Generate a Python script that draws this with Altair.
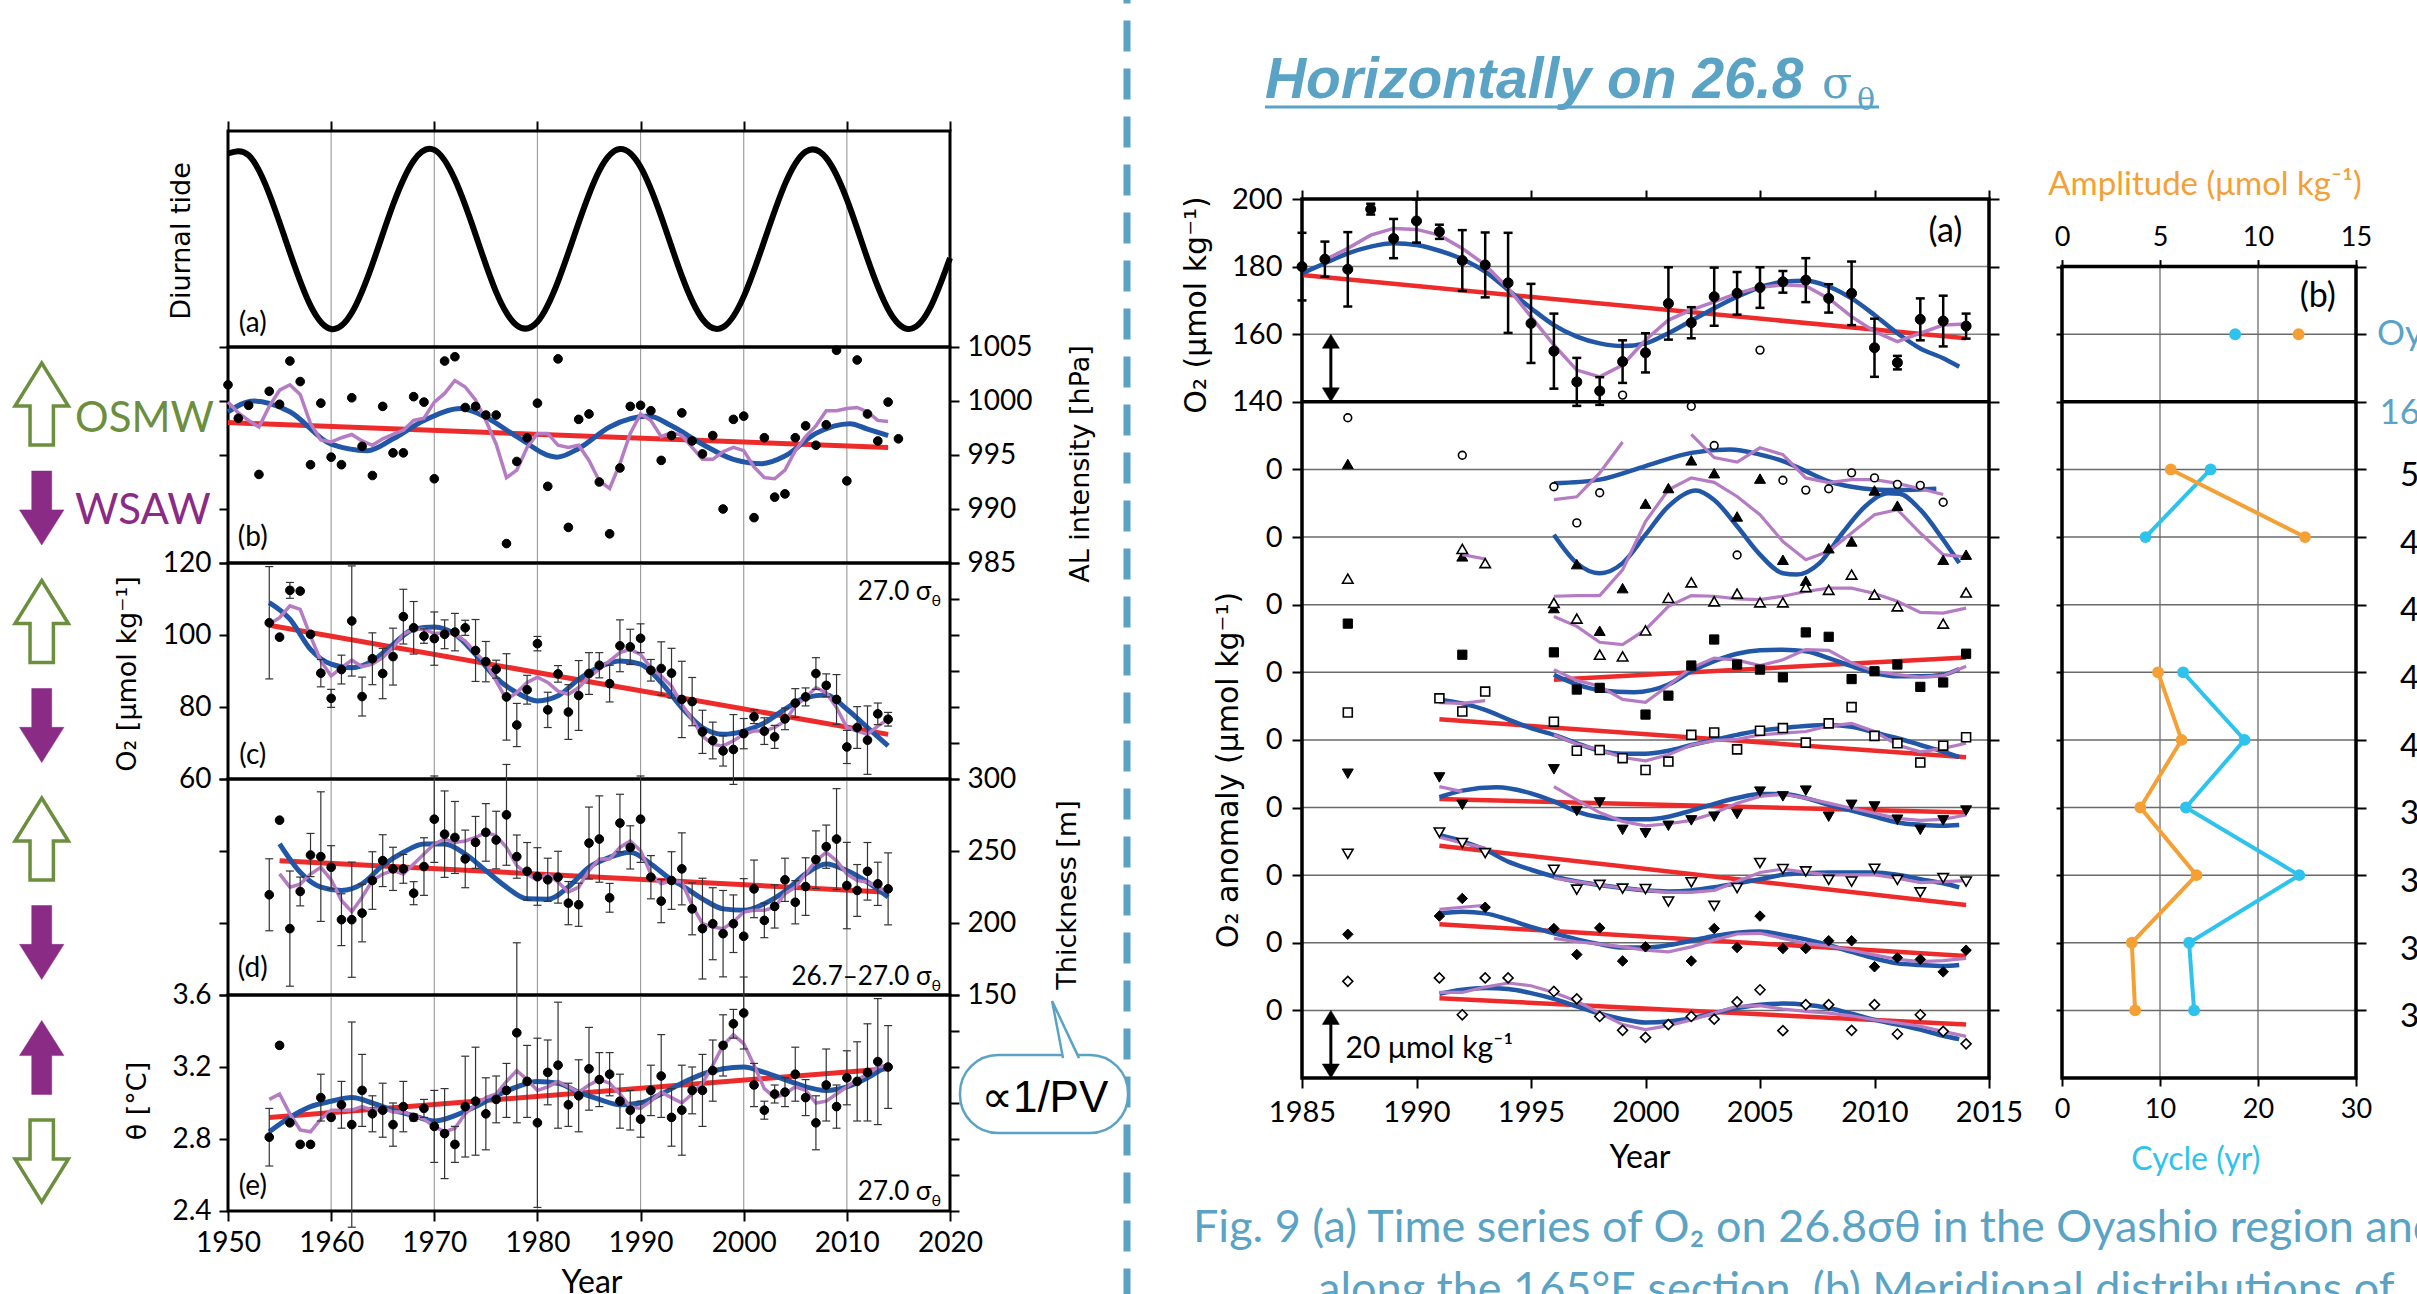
import altair as alt
import pandas as pd

# ============================== DATA ==============================
# ---- left column, panel (a): diurnal (nodal) tide, read every two years
TIDE_YEARS = list(range(1950, 2021, 2))
TIDE = [0.95, 0.93, 0.50, -0.15, -0.74, -1.00, -0.82, -0.28, 0.38, 0.87,
        0.99, 0.66, 0.05, -0.59, -0.96, -0.92, -0.47, 0.18, 0.76, 1.00,
        0.80, 0.25, -0.41, -0.89, -0.98, -0.64, -0.02, 0.61, 0.97, 0.90,
        0.44, -0.22, -0.78, -1.00, -0.78, -0.21]

# ---- panel (b): Aleutian Low intensity [hPa]
AL_YEARS = list(range(1950, 2016))
AL = [1001.5, 998.4, 999.6, 993.2, 1000.9, 999.7, 1003.7, 1001.8, 994.1, 999.8,
      994.8, 994.1, 1000.3, 995.8, 993.1, 999.5, 995.2, 995.2, 1000.4, 999.9,
      992.8, 1003.7, 1004.1, 999.4, 999.5, 998.7, 998.7, 986.8, 994.4, 996.6,
      999.8, 992.1, 1003.9, 988.3, 998.3, 998.8, 992.5, 987.7, 993.8, 999.5,
      999.6, 999.1, 994.5, 996.8, 998.9, 996.3, 995.1, 996.8, 990.0, 998.3,
      998.6, 989.2, 996.6, 991.1, 991.4, 996.6, 997.7, 995.9, 997.8, 1004.7,
      992.6, 1003.8, 998.8, 996.3, 999.9, 996.5]
AL_PURPLE_YEARS = list(range(1950, 2015))
AL_PURPLE = [999.9, 998.9, 998.2, 997.6, 999.5, 1001.0, 1001.5, 1000.6, 997.9, 996.4,
             996.2, 996.6, 996.9, 996.3, 995.9, 996.5, 996.9, 997.3, 998.2, 998.4,
             999.9, 1000.7, 1001.9, 1001.3, 1000.1, 998.2, 996.0, 992.9, 993.6, 995.7,
             997.0, 997.0, 995.9, 995.7, 995.9, 994.5, 992.6, 991.9, 994.2, 997.0,
             998.8, 998.2, 996.7, 997.1, 996.8, 995.7, 994.6, 994.6, 995.3, 995.7,
             995.4, 993.9, 992.9, 992.8, 993.6, 995.4, 996.7, 997.7, 999.1, 999.1,
             999.3, 999.4, 999.0, 998.2, 998.1]
AL_BLUE_YEARS = [1950, 1952.5, 1956, 1960, 1963.5, 1966, 1969, 1972.6, 1975, 1978, 1981.9, 1984,
                 1987, 1990.8, 1993, 1996, 1999, 2001.8, 2004, 2007, 2010.3, 2012, 2014]
AL_BLUE = [999.0, 1000.0, 999.0, 996.0, 995.4, 996.5, 998.2, 999.3, 998.5, 996.7, 994.8, 995.6,
           997.6, 998.6, 997.7, 996.0, 994.6, 994.2, 994.9, 997.0, 997.9, 997.4, 996.8]
AL_RED_YEARS = [1950, 2014]
AL_RED = [998.0, 995.7]

# ---- panels (c)-(e): yearly values 1954-2014
OBS_YEARS = list(range(1954, 2015))
O2 = [103.4, 99.4, 112.4, 112.2, 100.2, 89.4, 82.4, 90.4, 103.9, 82.9,
      93.4, 89.3, 94.0, 105.1, 102.0, 99.7, 99.0, 100.2, 100.8, 102.0,
      95.7, 92.6, 90.5, 82.8, 75.0, 84.8, 97.6, 79.2, 89.2, 78.6,
      83.2, 89.3, 91.6, 86.5, 97.0, 96.7, 99.1, 90.2, 90.7, 89.4,
      82.1, 81.5, 73.1, 70.7, 67.8, 68.2, 72.6, 77.3, 73.3, 71.7,
      76.7, 81.1, 82.8, 89.3, 86.0, 82.1, 68.9, 74.3, 70.8, 78.1, 76.6]
O2_ERR = [15.6, 0, 2.2, 0, 0, 3.8, 2.5, 4.0, 15.3, 5.4,
          7.2, 7.0, 7.9, 7.6, 7.3, 2.0, 7.4, 4.0, 5.2, 2.1,
          8.6, 5.6, 2.5, 12.0, 6.0, 4.0, 2.0, 4.9, 2.3, 7.6,
          9.7, 5.8, 3.5, 5.1, 7.2, 4.9, 4.0, 3.0, 7.4, 6.9,
          10.6, 6.7, 6.0, 5.1, 4.2, 9.7, 4.2, 1.9, 3.7, 3.2,
          3.0, 4.0, 2.5, 4.4, 3.2, 6.9, 4.6, 5.8, 9.5, 3.0, 1.9]
O2_PURPLE = [103.0, 104.8, 108.1, 107.1, 99.7, 92.8, 88.6, 90.9, 93.0, 91.2,
             91.9, 93.7, 96.5, 100.2, 101.6, 101.6, 100.4, 100.6, 100.2, 98.3,
             95.1, 92.3, 87.2, 82.1, 84.0, 86.8, 88.3, 86.8, 84.4, 83.5,
             85.4, 88.3, 90.5, 92.8, 95.1, 96.0, 94.6, 90.9, 88.6, 85.8,
             80.7, 76.6, 71.9, 69.6, 69.2, 70.6, 72.4, 73.3, 73.3, 74.3,
             76.1, 80.3, 82.6, 85.4, 84.0, 79.8, 74.3, 73.3, 72.4, 74.7, 76.6]
O2_BLUE_YEARS = list(range(1954, 2015, 2))
O2_BLUE = [109.0, 104.4, 96.0, 91.9, 90.9, 92.8, 97.4, 101.6, 102.2, 100.2,
           94.6, 88.1, 84.0, 81.7, 83.1, 87.7, 91.1, 92.8, 91.9, 86.8,
           79.8, 74.3, 72.4, 73.3, 75.6, 79.4, 82.6, 83.3, 79.4, 74.3, 69.2]
O2_RED_YEARS = [1954, 2014]
O2_RED = [102.7, 72.4]

THICK = [219.6, 271.4, 196.1, 221.9, 247.2, 246.1, 238.7, 202.3, 202.3, 206.9,
         229.5, 243.3, 237.6, 237.6, 220.7, 239.2, 272.1, 261.7, 259.4, 244.5,
         256.0, 262.9, 257.6, 275.1, 246.1, 235.9, 232.3, 230.0, 231.8, 213.8,
         212.7, 255.5, 258.3, 217.5, 269.4, 252.5, 272.1, 231.8, 215.2, 229.5,
         237.6, 209.8, 196.1, 199.5, 192.6, 199.5, 190.8, 223.7, 201.8, 211.5,
         230.0, 214.4, 225.3, 244.0, 253.0, 258.3, 226.0, 222.6, 235.9, 227.2, 223.7]
THICK_ERR = [25, 0, 40, 10, 15, 45, 15, 18, 40, 20,
             20, 18, 15, 10, 8, 20, 30, 30, 25, 20,
             18, 20, 20, 35, 15, 20, 20, 15, 18, 15,
             15, 25, 30, 10, 20, 15, 30, 15, 15, 20,
             25, 18, 35, 25, 30, 20, 40, 20, 12, 15,
             15, 15, 20, 20, 15, 35, 30, 18, 20, 15, 25]
THICK_PURPLE_YEARS = list(range(1955, 2015))
THICK_PURPLE = [234.1, 224.9, 227.0, 234.0, 238.7, 230.0, 215.7, 207.8, 217.9, 229.5,
                234.0, 236.4, 234.0, 241.0, 247.9, 254.9, 258.3, 256.0, 257.0, 259.4,
                262.9, 260.6, 252.5, 239.9, 234.0, 229.5, 234.0, 228.4, 221.4, 224.9,
                236.4, 244.5, 244.5, 252.5, 257.0, 250.2, 234.0, 227.2, 229.5, 228.4,
                212.2, 199.5, 197.2, 196.1, 200.7, 207.6, 208.8, 208.8, 211.0, 220.3,
                224.9, 234.1, 243.3, 249.1, 243.3, 234.1, 229.5, 228.4, 224.9, 221.4]
THICK_BLUE_YEARS = [1955, 1957, 1959, 1961, 1963, 1965, 1967, 1969, 1971, 1973,
                    1975, 1977, 1979, 1981, 1983, 1985, 1987, 1989, 1991, 1993,
                    1994, 1996, 1998, 2000, 2002, 2004, 2006, 2008, 2010, 2012, 2014]
THICK_BLUE = [254.9, 235.2, 224.9, 222.6, 227.2, 239.9, 249.1, 254.9, 254.9, 247.9,
              236.4, 224.9, 216.8, 216.5, 225.0, 238.7, 245.6, 249.1, 241.0, 230.0,
              226.0, 216.8, 209.8, 208.8, 213.4, 222.0, 234.1, 241.0, 236.4, 228.4, 218.0]
THICK_RED_YEARS = [1955, 2014]
THICK_RED = [243.3, 221.4]

THETA = [2.81, 3.32, 2.89, 2.77, 2.77, 3.03, 2.92, 2.99, 2.88, 3.07,
         2.94, 2.96, 2.88, 2.98, 2.92, 2.97, 2.87, 2.83, 2.77, 2.98,
         3.01, 2.94, 3.02, 3.07, 3.39, 3.12, 2.89, 3.17, 3.21, 2.99,
         3.04, 3.19, 3.13, 3.16, 3.01, 2.96, 2.91, 3.07, 3.15, 2.92,
         2.96, 3.07, 3.07, 3.18, 3.32, 3.44, 3.50, 3.10, 2.96, 3.05,
         3.06, 3.16, 3.03, 2.89, 3.10, 2.98, 3.14, 3.12, 3.17, 3.23, 3.20]
THETA_ERR = [0.16, 0, 0, 0, 0, 0.13, 0, 0.13, 0.57, 0.2,
             0.1, 0.15, 0.12, 0.14, 0.02, 0.05, 0.2, 0.25, 0.1, 0.28,
             0.3, 0.2, 0.13, 0.15, 0.5, 0.2, 0.47, 0.18, 0.35, 0.12,
             0.2, 0.23, 0.15, 0.12, 0.15, 0.11, 0.1, 0.14, 0.23, 0.16,
             0.25, 0.13, 0.2, 0.17, 0.17, 0.08, 0.2, 0.12, 0.05, 0.05,
             0.08, 0.15, 0.1, 0.15, 0.2, 0.12, 0.15, 0.22, 0.27, 0.35, 0.23]
THETA_PURPLE = [3.02, 3.05, 2.94, 2.85, 2.84, 2.91, 2.96, 2.96, 2.96, 2.98,
                2.96, 2.97, 2.95, 2.95, 2.93, 2.91, 2.87, 2.84, 2.86, 2.94,
                2.99, 3.03, 3.05, 3.12, 3.18, 3.13, 3.07, 3.09, 3.12, 3.09,
                3.06, 3.10, 3.13, 3.11, 3.05, 2.98, 2.97, 3.01, 3.06, 3.03,
                3.00, 3.05, 3.11, 3.21, 3.32, 3.38, 3.33, 3.21, 3.08, 3.03,
                3.05, 3.09, 3.07, 3.00, 3.01, 3.05, 3.09, 3.13, 3.16, 3.20, 3.21]
THETA_BLUE_YEARS = list(range(1954, 2015, 2))
THETA_BLUE = [2.84, 2.92, 2.98, 3.01, 3.03, 3.00, 2.96, 2.93, 2.90, 2.93,
              2.98, 3.04, 3.09, 3.12, 3.11, 3.06, 3.02, 2.99, 3.00, 3.05,
              3.11, 3.16, 3.19, 3.20, 3.17, 3.13, 3.09, 3.07, 3.09, 3.14, 3.21]
THETA_RED_YEARS = [1954, 2014]
THETA_RED = [2.92, 3.19]

# ---- right, panel (a): O2 on 26.8 sigma-theta in the Oyashio region
OY_YEARS = list(range(1985, 2015))
OY_O2 = [180.0, 182.2, 179.2, 197.0, 188.3, 193.5, 190.3, 181.8, 180.5, 175.2,
         163.2, 155.0, 145.9, 143.2, 151.9, 154.5, 169.1, 163.4, 171.1, 172.1,
         173.8, 175.5, 176.0, 170.6, 172.1, 156.0, 151.6, 164.4, 163.9, 162.4]
OY_ERR = [10, 5.2, 11, 1.6, 5.8, 6.4, 2.1, 9, 9.6, 14.8,
          11.7, 11.1, 7.1, 4.1, 6.3, 5.8, 10.7, 4.6, 8.6, 6.3,
          6, 3.2, 6.5, 4.2, 9.4, 8.6, 2, 6.2, 7.5, 3.7]
OY_BLUE_YEARS = list(range(1985, 2014)) + [2013.7]
OY_BLUE = [178.0, 181.0, 183.9, 185.9, 186.9, 186.4, 184.7, 182.2, 178.5, 173.1,
           167.7, 162.7, 159.3, 157.3, 156.5, 157.3, 160.3, 164.0, 167.7, 171.1,
           173.9, 175.5, 175.8, 174.1, 170.6, 165.7, 160.3, 155.8, 152.9, 150.4]
OY_PURPLE_YEARS = list(range(1986, 2015))
OY_PURPLE = [182.0, 185.4, 189.3, 191.3, 191.0, 189.3, 185.4, 180.5, 173.6, 165.2,
             156.8, 149.4, 147.4, 150.9, 158.3, 164.2, 167.2, 169.6, 172.1, 173.9,
             174.6, 174.3, 170.6, 165.2, 160.8, 157.8, 160.3, 162.7, 163.0]
OY_RED_YEARS = [1985, 2014]
OY_RED = [177.5, 158.8]

# ---- right, O2 anomalies along 165E (nine latitudes, north to south)
P96 = list(range(1996, 2015))
B91 = list(range(1991, 2014)) + [2013.7]

R1_YEARS = [1987, 1992, 1996, 1997, 1998, 1999, 2002, 2003, 2004, 2005, 2006, 2007, 2008, 2009, 2010, 2011, 2012, 2013]
R1_ANOM = [15.3, 4.2, -5.1, -15.8, -6.9, 22.0, 18.7, 7.1, -25.3, 35.3, -3.2, -6.1, -5.7, -1.0, -2.5, -4.4, -4.7, -9.7]
R1_BLUE_YEARS = [1996, 1998, 2000, 2002, 2003.7, 2005, 2006, 2007, 2008, 2009, 2010, 2011, 2012.7]
R1_BLUE = [-4.1, -3.0, 1.0, 4.9, 5.9, 4.4, 2.5, -0.5, -3.5, -5.1, -5.9, -6.1, -5.7]
R1_PURPLE_YEARS = [1996, 1997, 1998, 1999] + list(range(2002, 2014))
R1_PURPLE = [-8.9, -8.1, -1.0, 8.1, 10.4, 3.5, 2.2, 6.4, 4.4, -2.5, -3.9, -3.0, -3.0, -4.1, -5.7, -7.4]
R1_PURPLE_SEG = [0] * 4 + [1] * 12

R2_YEARS = [1987, 1992] + list(range(1996, 2012)) + [2013, 2014]
R2_ANOM = [21.6, -5.7, -21.0, -8.0, -27.7, -15.1, 9.9, 14.5, 22.7, 18.9, 6.1, 17.3, -6.7, -12.9, -3.3, -1.3, 13.8, 9.3, -6.7, -5.2]
R2_BLUE_YEARS = [1996, 1997, 1998, 1999, 2000, 2001, 2002.2, 2003, 2004, 2005, 2006, 2006.6, 2007.6,
                 2008.6, 2009.6, 2010.6, 2011.1, 2012, 2013, 2013.7]
R2_BLUE = [0.7, -7.7, -10.7, -7.7, 0.7, 9.1, 13.8, 11.0, 3.2, -5.2, -10.7, -11.1, -7.7, 1.2, 9.1, 13.0, 12.8, 8.1, -0.8, -7.7]
R2_PURPLE = [-17.5, -17.3, -17.3, -9.7, 4.6, 14.0, 17.5, 16.2, 12.0, 6.6, -1.3, -6.7, -4.2, 1.2, 6.6, 8.1, 1.2, -5.2, -5.9]

R3_YEARS = [1987, 1992, 1993] + list(range(1996, 2012)) + [2013, 2014]
R3_ANOM = [7.7, 16.5, 12.3, 0.5, -4.1, -14.8, -15.3, -7.6, 2.0, 6.6, 1.0, 3.3, 0.7, 0.7, 5.2, 4.4, 8.9, 3.0, -0.5, -5.6, 3.6]
R3_PURPLE_YEARS = [1992, 1993] + P96
R3_PURPLE = [14.8, 13.5, -3.5, -6.4, -11.1, -11.8, -7.4, -0.5, 2.7, 2.5, 1.7, 1.5, 2.5, 3.9, 4.9, 4.9, 3.3, 1.0, -2.3, -2.5, -1.0]
R3_PURPLE_SEG = [0, 0] + [1] * 19

R4_YEARS = [1987, 1992, 1996, 1997, 1998] + list(range(2000, 2015))
R4_ANOM = [14.4, 5.2, 5.9, -5.1, -4.6, -12.5, -6.9, 2.0, 9.7, 2.3, 0.8, -1.5, 11.8, 10.5, -2.0, 0.3, 2.3, -4.3, -3.0, 5.5]
R4_BLUE_YEARS = [1996, 1997, 1998, 1999.5] + list(range(2001, 2014)) + [2013.7]
R4_BLUE = [-0.7, -3.6, -5.3, -5.9, -3.6, 0.3, 3.3, 5.5, 6.5, 6.7, 6.2, 4.2, 1.8, -0.2, -1.2, -1.2, -0.7, 1.0]
R4_PURPLE = [0.8, -2.4, -4.1, -8.0, -8.9, -3.9, 1.3, 4.2, 3.6, 2.0, 3.7, 6.7, 6.5, 2.8, 0.3, -0.7, -1.4, -1.0, 1.8]
R4_RED_YEARS = [1996, 2014]
R4_RED = [-2.2, 4.4]

R5_YEARS = [1987, 1991, 1992, 1993] + P96
R5_ANOM = [8.1, 12.3, 8.4, 14.3, 5.4, -3.2, -3.0, -5.4, -8.9, -6.4, 1.5, 2.2, -2.8, 2.7, 3.5, -0.8, 4.9, 9.7, 1.2, -1.0, -6.7, -1.7, 0.8]
R5_BLUE = [12.0, 10.8, 8.9, 6.1, 3.5, 1.5, -1.0, -3.2, -4.1, -4.1, -3.2, -1.5, 0.0, 1.5, 2.8, 3.5, 4.1, 4.4, 3.9, 2.2, 0.5, -1.5, -3.5, -5.1]
R5_PURPLE_YEARS = [1991, 1992, 1993] + P96
R5_PURPLE = [11.0, 10.8, 11.6, 1.5, -1.2, -3.0, -5.2, -6.2, -4.4, -1.5, -0.2, 0.2, 1.5, 2.0, 2.5, 4.1, 4.9, 2.5, -1.5, -3.5, -2.5, -1.0]
R5_RED = [6.1, -5.1]

R6_YEARS = [1987, 1991, 1992] + P96
R6_ANOM = [10.0, 8.9, 0.8, 11.3, -1.0, 1.5, -6.6, -7.6, -5.4, -3.8, -2.7, -1.9, 4.7, 3.3, 5.0, -2.7, 0.8, 0.3, -3.6, -6.6, -3.8, -0.9]
R6_BLUE_YEARS = [1991, 1992, 1993.5, 1995] + list(range(1996, 2014)) + [2013.7]
R6_BLUE = [3.1, 5.0, 6.0, 4.2, 1.8, -1.2, -2.9, -3.5, -3.5, -2.7, -0.9, 1.1, 2.8, 4.0, 4.0, 2.8, 0.8, -0.9, -2.7, -4.4, -5.1, -5.4, -5.2]
R6_PURPLE_YEARS = [1991, 1992] + P96
R6_PURPLE = [6.2, 4.7, 6.2, 2.3, -1.5, -4.1, -5.4, -4.8, -3.8, -1.7, 1.3, 3.3, 4.0, 2.8, 1.3, -0.2, -1.7, -3.2, -3.8, -3.5, -2.2]
R6_RED = [2.5, -1.5]

R7_YEARS = [1987, 1991, 1992, 1993] + P96
R7_ANOM = [6.3, 12.6, 9.5, 6.5, 1.6, -4.3, -2.9, -4.0, -4.1, -7.8, -2.1, -9.1, -3.8, 3.6, 1.8, 1.1, -1.4, -1.9, 1.9, -1.4, -5.1, -0.9, -1.9]
R7_BLUE = [11.9, 10.0, 7.5, 4.0, 1.6, -0.4, -1.9, -2.9, -3.8, -4.5, -4.8, -4.5, -3.6, -2.4, -1.2, 0.1, 0.6, 0.8, 0.8, 0.8, 0.1, -1.2, -2.4, -3.6]
R7_PURPLE = [11.2, 9.5, 8.0, -0.9, -1.9, -2.9, -3.8, -4.5, -5.1, -5.1, -4.5, -1.9, 0.8, 1.8, 0.8, 0.1, 0.1, 0.1, -0.9, -2.2, -1.9, -1.6]
R7_RED = [8.7, -8.8]

R8_YEARS = [1987, 1991, 1992, 1993, 1996, 1997, 1998, 1999, 2000] + list(range(2002, 2015))
R8_ANOM = [2.5, 7.9, 13.1, 10.5, 4.2, -3.5, 4.4, -5.4, -1.2, -5.4, 4.2, -1.4, 7.9, -1.7, -1.7, 0.6, 0.6, -7.1, -4.4, -4.9, -8.6, -2.2]
R8_BLUE = [8.7, 9.2, 8.7, 6.9, 4.7, 2.8, 1.0, -0.4, -1.4, -1.4, -0.7, 0.6, 2.0, 3.0, 3.3, 2.3, 1.0, -0.7, -2.7, -4.6, -6.1, -6.6, -6.9, -6.6]
R8_PURPLE = [9.9, 10.5, 11.1, 1.3, 0.3, -0.4, -1.2, -2.2, -2.7, -1.2, 0.8, 2.6, 2.8, 1.3, -0.2, -1.0, -2.2, -3.6, -4.9, -5.6, -5.3, -4.6]
R8_RED = [5.5, -3.9]

R9_YEARS = [1987, 1991, 1992, 1993, 1994] + P96
R9_ANOM = [8.6, 9.6, -1.3, 9.6, 9.6, 5.6, 3.4, -1.8, -5.9, -8.0, -4.2, -1.8, -2.6, 2.5, 6.1, -6.0, 1.7, 1.7, -5.9, 1.7, -7.0, -1.3, -6.2, -9.9]
R9_BLUE = [4.9, 6.1, 6.6, 6.3, 5.1, 3.4, 1.2, -1.0, -2.6, -3.6, -3.3, -2.3, -0.8, 0.7, 1.7, 2.0, 1.7, 0.7, -1.0, -2.8, -4.2, -5.7, -7.5, -8.5]
R9_PURPLE_YEARS = list(range(1991, 2015))
R9_PURPLE = [5.3, 5.3, 6.9, 8.1, 7.3, 5.3, 2.7, -0.8, -4.2, -5.7, -4.5, -2.8, -0.8, 1.2, 1.4, 0.4, -0.3, -0.8, -1.6, -2.8, -3.7, -4.7, -6.2, -7.7]
R9_RED = [3.6, -4.2]
RED_YEARS = [1991, 2014]

# ---- right, panel (b): amplitude and cycle of the oscillation
B_LABELS = ['Oyashio', '165°E', '50°N', '47°N', '45°N', '42°N', '40°N', '37°N', '35°N', '32°N', '30°N']
B_GROUP = ['oy', 'sec', 'n', 'n', 'x', 's', 's', 's', 's', 's', 's']
B_AMPLITUDE = [12.07, None, 5.55, 12.40, None, 4.90, 6.10, 4.00, 6.86, 3.56, 3.73]
B_CYCLE = [17.67, None, 15.16, 8.52, None, 12.36, 18.63, 12.64, 24.21, 12.97, 13.48]

# ============================== LAYOUT / STYLE ==============================
W, H = 2417, 1294
LX = ([1950, 2020], [228, 950])
PA = ([-1.2, 1.2], [347, 131])
PB = ([985, 1005], [563, 347])
PC = ([60, 120], [779, 563])
PD = ([150, 300], [995, 779])
PE = ([2.4, 3.6], [1211, 995])
RX = ([1985, 2015], [1302, 1989])
RY = ([-60, 200], [1078, 199])
BX = ([0, 30], [2062, 2356])
BA = ([0, 15], [2062, 2356])
BY = ([-60, 180], [1078, 266.6])
ROW_ZERO = [120, 100, 80, 60, 40, 20, 0, -20, -40]      # zero line of each anomaly series
B_LEVEL = [160, 140, 120, 100, 80, 60, 40, 20, 0, -20, -40]

BLUE, PURPLE, RED = '#2157a6', '#b57cc3', '#ee2b2b'
GREEN, VIOLET, TEAL = '#6b8f3e', '#8a2b86', '#5aa3c5'
ORANGE, CYAN, GRID = '#f4a034', '#2ec3ec', '#a0a0a0'
FONT = 'Lato'
WIDE = 'DejaVu Sans'


def S(spec):
    return alt.Scale(domain=spec[0], range=spec[1], nice=False, zero=False)


def X(field, spec, axis=None):
    return alt.X(f'{field}:Q', scale=S(spec), axis=axis)


def Y(field, spec, axis=None):
    return alt.Y(f'{field}:Q', scale=S(spec), axis=axis)


def line(x, y, xs, ys, color, width, interp='linear', seg=None):
    d = pd.DataFrame({'x': list(x), 'y': list(y)})
    enc = dict(x=X('x', xs), y=Y('y', ys))
    if seg is not None:
        d['s'] = list(seg)
        enc['detail'] = alt.Detail('s:N')
    return alt.Chart(d).mark_line(color=color, strokeWidth=width, interpolate=interp).encode(**enc)


def points(x, y, xs, ys, shape='circle', size=80, fill='black', stroke='black', sw=1.0):
    d = pd.DataFrame({'x': list(x), 'y': list(y)})
    return alt.Chart(d).mark_point(shape=shape, size=size, filled=True, fill=fill, stroke=stroke,
                                   strokeWidth=sw, opacity=1).encode(x=X('x', xs), y=Y('y', ys))


def errbars(x, y, e, xs, ys, color, width, cap):
    d = pd.DataFrame({'x': list(x), 'y': list(y), 'e': list(e)})
    d = d[d['e'] > 0].copy()
    d['lo'] = d['y'] - d['e']
    d['hi'] = d['y'] + d['e']
    rule = alt.Chart(d).mark_rule(color=color, strokeWidth=width).encode(
        x=X('x', xs), y=Y('lo', ys), y2='hi:Q')
    caps = alt.Chart(d).transform_fold(['lo', 'hi'], as_=['k', 'v']).mark_point(
        shape='stroke', size=cap * cap, color=color, strokeWidth=width, opacity=1).encode(
        x=X('x', xs), y=Y('v', ys))
    return [rule, caps]


def frame(xs, ys, width=3, color='black'):
    d = pd.DataFrame({'x': [xs[0][0]], 'x2': [xs[0][1]], 'y': [ys[0][0]], 'y2': [ys[0][1]]})
    return alt.Chart(d).mark_rect(fill='transparent', stroke=color, strokeWidth=width).encode(
        x=X('x', xs), x2='x2:Q', y=Y('y', ys), y2='y2:Q')


def vlines(vals, xs, ys, color, width):
    d = pd.DataFrame({'x': list(vals)})
    d['y'] = ys[0][0]
    d['y2'] = ys[0][1]
    return alt.Chart(d).mark_rule(color=color, strokeWidth=width).encode(
        x=X('x', xs), y=Y('y', ys), y2='y2:Q')


def hlines(vals, xs, ys, color, width):
    d = pd.DataFrame({'y': list(vals)})
    d['x'] = xs[0][0]
    d['x2'] = xs[0][1]
    return alt.Chart(d).mark_rule(color=color, strokeWidth=width).encode(
        y=Y('y', ys), x=X('x', xs), x2='x2:Q')


def axis(xs, ys, xaxis=None, yaxis=None):
    d = pd.DataFrame({'x': [xs[0][0]], 'y': [ys[0][0]]})
    return alt.Chart(d).mark_point(opacity=0, size=1).encode(x=X('x', xs, xaxis), y=Y('y', ys, yaxis))


def AX(orient, offset, values, labels=True, size=27, pad=8, tick=9, expr=None, fmt='d'):
    kw = dict(orient=orient, offset=offset, values=values, labels=labels, ticks=True,
              tickSize=tick, tickWidth=2, tickColor='black', domain=False, grid=False,
              title=None, labelFont=FONT, labelFontSize=size, labelColor='black',
              labelPadding=pad, labelFlush=False, labelOverlap=False, format=fmt)
    if expr:
        kw['labelExpr'] = expr
    return alt.Axis(**kw)


def text(t, x, y, xs, ys, size, font=FONT, color='black', align='left', baseline='alphabetic',
         angle=0, weight='normal', style='normal'):
    d = pd.DataFrame({'x': [x], 'y': [y], 't': [t]})
    return alt.Chart(d).mark_text(font=font, fontSize=size, color=color, align=align, baseline=baseline,
                                  angle=angle, fontWeight=weight, fontStyle=style).encode(
        x=X('x', xs), y=Y('y', ys), text=alt.Text('t:N'))


def glyph(x, y, xs, ys, path, size, fill, stroke, sw):
    d = pd.DataFrame({'x': [x], 'y': [y]})
    return alt.Chart(d).mark_point(shape=path, size=size, filled=True, fill=fill, stroke=stroke,
                                   strokeWidth=sw, opacity=1).encode(x=X('x', xs), y=Y('y', ys))


UP_OPEN = 'M0,-1L0.65,0.05L0.285,0.05L0.285,1L-0.285,1L-0.285,0.05L-0.65,0.05Z'
DOWN_OPEN = 'M0,1L0.65,-0.05L0.285,-0.05L0.285,-1L-0.285,-1L-0.285,-0.05L-0.65,-0.05Z'
DOWN_FILL = 'M-0.27,-1L0.27,-1L0.27,0.05L0.6,0.05L0,1L-0.6,0.05L-0.27,0.05Z'
UP_FILL = 'M-0.27,1L0.27,1L0.27,-0.05L0.6,-0.05L0,-1L-0.6,-0.05L-0.27,-0.05Z'
HEAD_UP = 'M0,-0.7L0.85,0.7L-0.85,0.7Z'
HEAD_DOWN = 'M0,0.7L0.85,-0.7L-0.85,-0.7Z'
POINTER = 'M-0.07,1.04L-0.46,-1L0.5,1.04'

layers = []
add = layers.extend

# ============================== LEFT COLUMN ==============================
DECADES = list(range(1950, 2021, 10))
for ys in (PA, PB, PC, PD, PE):
    add([vlines(range(1960, 2020, 10), LX, ys, GRID, 1.2), frame(LX, ys, 3)])

add([
    axis(LX, PA, xaxis=AX('top', -131, DECADES, labels=False, tick=10)),
    axis(LX, PE, xaxis=AX('bottom', 1211 - H, DECADES, size=28, pad=8, tick=10)),
    axis(LX, PB, yaxis=AX('left', -228, [985, 990, 995, 1000, 1005], labels=False)),
    axis(LX, PB, yaxis=AX('right', 950 - W, [985, 990, 995, 1000, 1005], size=28, pad=8)),
    axis(LX, PC, yaxis=AX('left', -228, [60, 80, 100, 120], size=28, pad=8)),
    axis(LX, PC, yaxis=AX('right', 950 - W, [60, 70, 80, 90, 100, 110, 120], labels=False)),
    axis(LX, PD, yaxis=AX('left', -228, [150, 200, 250, 300], labels=False)),
    axis(LX, PD, yaxis=AX('right', 950 - W, [150, 200, 250, 300], size=28, pad=8)),
    axis(LX, PE, yaxis=AX('left', -228, [2.4, 2.8, 3.2, 3.6], size=28, pad=8, fmt='.1f')),
    axis(LX, PE, yaxis=AX('right', 950 - W, [2.4, 2.6, 2.8, 3.0, 3.2, 3.4, 3.6], labels=False, fmt='.1f')),
])

# (a)
add([line(TIDE_YEARS, TIDE, LX, PA, 'black', 6, 'natural')])
# (b)
add([line(AL_RED_YEARS, AL_RED, LX, PB, RED, 5),
     line(AL_BLUE_YEARS, AL_BLUE, LX, PB, BLUE, 5, 'monotone'),
     line(AL_PURPLE_YEARS, AL_PURPLE, LX, PB, PURPLE, 3.5),
     points(AL_YEARS, AL, LX, PB, size=75)])
# (c)
add([line(O2_RED_YEARS, O2_RED, LX, PC, RED, 5),
     line(O2_BLUE_YEARS, O2_BLUE, LX, PC, BLUE, 5, 'monotone'),
     line(OBS_YEARS, O2_PURPLE, LX, PC, PURPLE, 3.5)])
add(errbars(OBS_YEARS, O2, O2_ERR, LX, PC, '#333333', 1.2, 8))
add([points(OBS_YEARS, O2, LX, PC, size=75)])
# (d)
add([line(THICK_RED_YEARS, THICK_RED, LX, PD, RED, 5),
     line(THICK_BLUE_YEARS, THICK_BLUE, LX, PD, BLUE, 5, 'monotone'),
     line(THICK_PURPLE_YEARS, THICK_PURPLE, LX, PD, PURPLE, 3.5)])
add(errbars(OBS_YEARS, THICK, THICK_ERR, LX, PD, '#333333', 1.2, 8))
add([points(OBS_YEARS, THICK, LX, PD, size=75)])
# (e)
add([line(THETA_RED_YEARS, THETA_RED, LX, PE, RED, 5),
     line(THETA_BLUE_YEARS, THETA_BLUE, LX, PE, BLUE, 5, 'monotone'),
     line(OBS_YEARS, THETA_PURPLE, LX, PE, PURPLE, 3.5)])
add(errbars(OBS_YEARS, THETA, THETA_ERR, LX, PE, '#333333', 1.2, 8))
add([points(OBS_YEARS, THETA, LX, PE, size=75)])

# panel letters and density labels
for lab, ys, v in (('(a)', PA, -0.944), ('(b)', PB, 987.31), ('(c)', PC, 66.39),
                   ('(d)', PD, 168.06), ('(e)', PE, 2.533)):
    add([text(lab, 1952.4, v, LX, ys, 28, align='center', baseline='middle')])
for lab, ys, v, vs in (('27.0 σ', PC, 109.72, 108.06), ('26.7–27.0 σ', PD, 156.94, 152.78),
                       ('27.0 σ', PE, 2.461, 2.428)):
    add([text(lab, 2018.2, v, LX, ys, 26, align='right'),
         text('θ', 2018.2, vs, LX, ys, 16)])

# axis titles (left column)
add([
    text('Diurnal tide', 1945.54, -0.022, LX, PA, 27, font=WIDE, align='center', baseline='middle', angle=270),
    text('AL intensity [hPa]', 2032.7, 994.17, LX, PB, 27, font=WIDE, align='center', baseline='middle', angle=270),
    text('O₂ [μmol kg⁻¹]', 1940.35, 89.17, LX, PC, 27, font=WIDE, align='center', baseline='middle', angle=270),
    text('Thickness [m]', 2031.44, 219.44, LX, PD, 27, font=WIDE, align='center', baseline='middle', angle=270),
    text('θ [°C]', 1941.23, 3.011, LX, PE, 27, font=WIDE, align='center', baseline='middle', angle=270),
    text('Year', 1985.29, 2.0, LX, PE, 32, align='center', baseline='middle'),
])

# water-mass arrows
add([
    glyph(1931.94, 999.72, LX, PB, UP_OPEN, 6724, 'white', GREEN, 3.5),
    text('OSMW', 1935.17, 997.10, LX, PB, 42, color=GREEN),
    glyph(1931.94, 990.09, LX, PB, DOWN_FILL, 5476, VIOLET, VIOLET, 0.5),
    text('WSAW', 1935.17, 988.61, LX, PB, 42, color=VIOLET),
    glyph(1931.94, 103.75, LX, PC, UP_OPEN, 6724, 'white', GREEN, 3.5),
    glyph(1931.94, 74.86, LX, PC, DOWN_FILL, 5476, VIOLET, VIOLET, 0.5),
    glyph(1931.94, 258.33, LX, PD, UP_OPEN, 6724, 'white', GREEN, 3.5),
    glyph(1931.94, 186.46, LX, PD, DOWN_FILL, 5476, VIOLET, VIOLET, 0.5),
    glyph(1931.94, 3.253, LX, PE, UP_FILL, 5476, VIOLET, VIOLET, 0.5),
    glyph(1931.94, 2.678, LX, PE, DOWN_OPEN, 6724, 'white', GREEN, 3.5),
])

# dashed separator and the 1/PV callout
sep = alt.Chart(pd.DataFrame({'x': [2037.16]})).mark_rule(
    color=TEAL, strokeWidth=7, strokeDash=[31, 17], strokeDashOffset=27.6).encode(
    x=X('x', LX), y=alt.value(0), y2=alt.value(H))
bubble = alt.Chart(pd.DataFrame({'x': [2020.97], 'x2': [2037.26], 'y': [3.2667], 'y2': [2.8333]})).mark_rect(
    fill='white', stroke=TEAL, strokeWidth=2.5, cornerRadius=38).encode(
    x=X('x', LX), x2='x2:Q', y=Y('y', PE), y2='y2:Q')
add([sep, bubble,
     glyph(2031.15, 3.411, LX, PE, POINTER, 3136, 'white', TEAL, 2.5),
     text('∝1/PV', 2029.2, 2.95, LX, PE, 44, font='Liberation Sans, DejaVu Sans', align='center')])

# ============================== RIGHT: PANEL (a) + ANOMALIES ==============================
R_TICKS = list(range(-40, 201, 20))
add([
    hlines([180, 160], RX, RY, '#808080', 1.5),
    hlines(ROW_ZERO, RX, RY, '#6a6a6a', 1.5),
    hlines([140], RX, RY, 'black', 3.5),
    frame(RX, RY, 3.5),
    axis(RX, RY, yaxis=AX('left', -1302, R_TICKS, size=29, pad=10, tick=10,
                          expr="datum.value >= 140 ? datum.label : '0'")),
    axis(RX, RY, yaxis=AX('right', 1989 - W, R_TICKS, labels=False, tick=10)),
    axis(RX, RY, xaxis=AX('bottom', 1078 - H, list(range(1985, 2016, 5)), size=29, pad=10, tick=10)),
    axis(RX, RY, xaxis=AX('top', -199, list(range(1985, 2016, 5)), labels=False, tick=9)),
])

# Oyashio series
add([line(OY_RED_YEARS, OY_RED, RX, RY, RED, 4.5),
     line(OY_BLUE_YEARS, OY_BLUE, RX, RY, BLUE, 4.5, 'monotone'),
     line(OY_PURPLE_YEARS, OY_PURPLE, RX, RY, PURPLE, 3.5)])
add(errbars(OY_YEARS, OY_O2, OY_ERR, RX, RY, 'black', 2.5, 9))
add([points(OY_YEARS, OY_O2, RX, RY, size=100)])

# anomaly rows: (marker years, anomalies, blue, purple, red, marker style)
ROWS = [
    (R1_YEARS, R1_ANOM, (R1_BLUE_YEARS, R1_BLUE), (R1_PURPLE_YEARS, R1_PURPLE, R1_PURPLE_SEG), None, ('circle', False, 60)),
    (R2_YEARS, R2_ANOM, (R2_BLUE_YEARS, R2_BLUE), (P96, R2_PURPLE, None), None, ('triangle-up', True, 120)),
    (R3_YEARS, R3_ANOM, None, (R3_PURPLE_YEARS, R3_PURPLE, R3_PURPLE_SEG), None, ('triangle-up', False, 110)),
    (R4_YEARS, R4_ANOM, (R4_BLUE_YEARS, R4_BLUE), (P96, R4_PURPLE, None), (R4_RED_YEARS, R4_RED), ('square', True, 85)),
    (R5_YEARS, R5_ANOM, (B91, R5_BLUE), (R5_PURPLE_YEARS, R5_PURPLE, [0] * 3 + [1] * 19), (RED_YEARS, R5_RED), ('square', False, 80)),
    (R6_YEARS, R6_ANOM, (R6_BLUE_YEARS, R6_BLUE), (R6_PURPLE_YEARS, R6_PURPLE, [0] * 2 + [1] * 19), (RED_YEARS, R6_RED), ('triangle-down', True, 120)),
    (R7_YEARS, R7_ANOM, (B91, R7_BLUE), (R5_PURPLE_YEARS, R7_PURPLE, [0] * 3 + [1] * 19), (RED_YEARS, R7_RED), ('triangle-down', False, 110)),
    (R8_YEARS, R8_ANOM, (B91, R8_BLUE), (R5_PURPLE_YEARS, R8_PURPLE, [0] * 3 + [1] * 19), (RED_YEARS, R8_RED), ('diamond', True, 110)),
    (R9_YEARS, R9_ANOM, (B91, R9_BLUE), (R9_PURPLE_YEARS, R9_PURPLE, None), (RED_YEARS, R9_RED), ('diamond', False, 100)),
]
for zero, (my, ma, blue, purple, red, style) in zip(ROW_ZERO, ROWS):
    if red is not None:
        add([line(red[0], [zero + v for v in red[1]], RX, RY, RED, 4.5)])
    if blue is not None:
        add([line(blue[0], [zero + v for v in blue[1]], RX, RY, BLUE, 4.5, 'monotone')])
    add([line(purple[0], [zero + v for v in purple[1]], RX, RY, PURPLE, 3.2, seg=purple[2])])
    shape, filled, size = style
    if filled:
        add([points(my, [zero + v for v in ma], RX, RY, shape=shape, size=size, fill='black', stroke='black', sw=1)])
    else:
        add([points(my, [zero + v for v in ma], RX, RY, shape=shape, size=size, fill='white', stroke='black', sw=1.6)])

# scale arrows (20 umol/kg)
for top, bot in ((160, 140), (-40, -60)):
    add([alt.Chart(pd.DataFrame({'x': [1986.26], 'y': [bot + 2], 'y2': [top - 2]})).mark_rule(
            color='black', strokeWidth=3).encode(x=X('x', RX), y=Y('y', RY), y2='y2:Q'),
         glyph(1986.26, top - 2.07, RX, RY, HEAD_UP, 400, 'black', 'black', 0.5),
         glyph(1986.26, bot + 2.07, RX, RY, HEAD_DOWN, 400, 'black', 'black', 0.5)])
add([text('20 μmol kg⁻¹', 1986.9, -51.4, RX, RY, 30, baseline='middle'),
     text('(a)', 2013.1, 190.2, RX, RY, 34, align='center', baseline='middle')])

# titles / labels of the right column
add([
    text('O₂ (μmol kg⁻¹)', 1980.41, 168.65, RX, RY, 30, font=WIDE, align='center', baseline='middle', angle=270),
    text('O₂ anomaly (μmol kg⁻¹)', 1981.81, 31.1, RX, RY, 30, font=WIDE, align='center', baseline='middle', angle=270),
    text('Year', 1999.76, -83.6, RX, RY, 32, align='center', baseline='middle'),
    text('Horizontally on 26.8', 1983.38, 229.87, RX, RY, 57, font='Liberation Sans Narrow, Liberation Sans',
         color=TEAL, weight='bold', style='italic'),
    text('σ', 2007.71, 229.87, RX, RY, 44, font='DejaVu Serif', color=TEAL),
    text('θ', 2009.24, 226.32, RX, RY, 30, font='DejaVu Serif', color=TEAL),
    alt.Chart(pd.DataFrame({'x': [1983.38], 'x2': [2010.2], 'y': [227.2]})).mark_rule(
        color=TEAL, strokeWidth=3).encode(x=X('x', RX), x2='x2:Q', y=Y('y', RY)),
    text('Fig. 9  (a) Time series of O₂ on 26.8σθ in the Oyashio region and', 1980.24, -108.5, RX, RY, 45, color=TEAL),
    text('along the 165°E section. (b) Meridional distributions of', 1985.70, -126.8, RX, RY, 45, color=TEAL),
])

# ============================== RIGHT: PANEL (b) ==============================
B_TICKS = list(range(-40, 181, 20))
add([
    vlines([10, 20], BX, BY, '#808080', 1.5),
    hlines([v for v in B_LEVEL if v != 140], BX, BY, '#6a6a6a', 1.5),
    hlines([140], BX, BY, 'black', 3.5),
    frame(BX, BY, 3.5),
    axis(BA, BY, xaxis=AX('top', -266.6, [0, 5, 10, 15], size=27, pad=8, tick=7)),
    axis(BX, BY, xaxis=AX('bottom', 1078 - H, [0, 10, 20, 30], size=27, pad=10, tick=8)),
    axis(BX, BY, yaxis=AX('left', -2062, B_TICKS, labels=False, tick=6)),
    axis(BX, BY, yaxis=AX('right', 2356 - W, B_TICKS, labels=False, tick=10)),
])
bdf = pd.DataFrame({'label': B_LABELS, 'level': B_LEVEL, 'g': B_GROUP, 'amp': B_AMPLITUDE, 'cyc': B_CYCLE})
bdat = bdf.dropna()
for field, spec, color in (('cyc', BX, CYAN), ('amp', BA, ORANGE)):
    linked = bdat[bdat['g'].isin(['n', 's'])]
    add([alt.Chart(linked).mark_line(color=color, strokeWidth=4).encode(
            x=X(field, spec), y=Y('level', BY), detail='g:N', order='level:Q'),
         alt.Chart(bdat).mark_point(shape='circle', size=140, filled=True, color=color, opacity=1).encode(
            x=X(field, spec), y=Y('level', BY))])

add([
    text('Amplitude  (μmol kg⁻¹)', 14.6, 201.18, BX, BY, 33, color=ORANGE, align='center'),
    text('Cycle (yr)', 13.66, -87.2, BX, BY, 32, color=CYAN, align='center'),
    text('(b)', 26.1, 171.0, BX, BY, 34, align='center', baseline='middle'),
    text(B_LABELS[0], 32.14, 160, BX, BY, 35, color=TEAL, baseline='middle'),
    text(B_LABELS[1], 32.4, 136.7, BX, BY, 35, color=TEAL, baseline='middle'),
])
for lab, lev in zip(B_LABELS[2:], B_LEVEL[2:]):
    add([text(lab, 34.5, lev - 2, BX, BY, 33, baseline='middle')])

chart = alt.layer(*layers).resolve_scale(x='independent', y='independent').properties(
    width=W, height=H, padding=0, autosize=alt.AutoSizeParams(type='none'), background='white'
).configure_view(stroke=None)

chart.save('out.html', embed_options={'renderer': 'svg', 'actions': False})
